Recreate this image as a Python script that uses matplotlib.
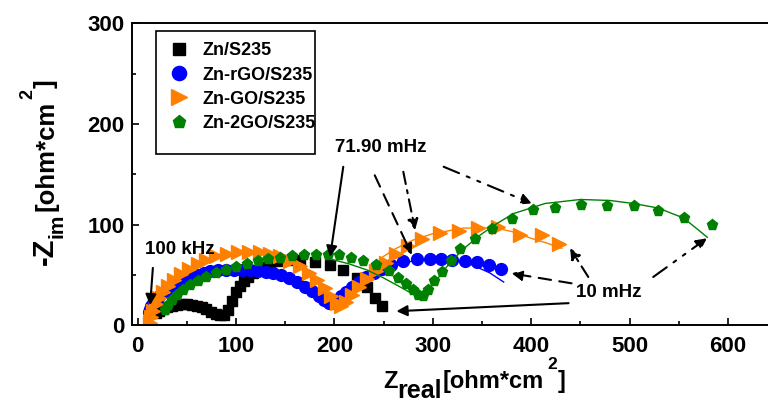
import numpy as np
import matplotlib
matplotlib.use("Agg")
import matplotlib.pyplot as plt
from matplotlib.patches import Rectangle
from matplotlib.ticker import MultipleLocator
from matplotlib.transforms import IdentityTransform

plt.rcParams['font.family'] = ['Liberation Sans', 'DejaVu Sans']
plt.rcParams['font.weight'] = 'bold'

# Zn/S235
zn_x = [19, 22, 26, 30, 35, 40, 45, 50, 55, 60, 65, 70, 75, 80, 84, 88, 92, 96,
        100, 104, 108, 112, 117, 122, 128, 135, 145, 155, 165, 180, 196, 209,
        223, 233, 241, 248]
zn_y = [12, 14, 16, 18, 19.5, 20.5, 21, 21, 20.5, 19.5, 18, 16, 13.5, 11, 10,
        10.5, 15, 24, 33, 39, 44, 48, 52, 55, 57.5, 60, 64, 65, 65, 63, 60, 55,
        47, 38, 27, 19]

# Zn-rGO/S235
rgo_x = [12, 13, 14, 16, 18, 21, 24, 28, 32, 37, 42, 48, 54, 60, 67, 74, 82, 90,
         98, 106, 114, 122, 130, 138, 146, 154, 162, 170, 177, 184, 189, 194,
         198, 202, 207, 212, 218, 225, 232, 240, 248, 258, 270, 284, 297, 308,
         320, 333, 345, 357, 369]
rgo_y = [13, 16, 19, 22, 25, 28, 31, 34, 37, 40, 43, 46, 48, 50, 52, 53.5, 54.5,
         55, 55, 55, 54.5, 54, 53, 51.5, 49.5, 46.5, 43, 38.5, 34, 29, 25.5, 22,
         22, 25, 29, 33, 38, 43, 48, 52, 56, 60, 64, 66, 66, 65.5, 65, 64, 63,
         60, 56]
rgo_fit_x = [190, 197, 205, 220, 240, 260, 280, 300, 320, 340, 358, 372]
rgo_fit_y = [26, 22, 25, 37, 50, 59, 64, 65.5, 64.5, 60, 52, 43]

# Zn-GO/S235
go_x = [13, 14, 16, 19, 22, 26, 31, 37, 44, 52, 61, 70, 80, 91, 102, 113, 124,
        135, 145, 155, 165, 174, 182, 190, 197, 203, 207, 212, 218, 225, 233,
        242, 252, 263, 275, 289, 307, 327, 346, 366, 389, 411, 428]
go_y = [2, 8, 14, 21, 27, 33, 39, 45, 51, 56, 61, 65, 68.5, 71, 72.5, 73, 72.5,
        71, 68.5, 64, 58.5, 52, 45, 37, 29, 22, 19, 23, 30, 38, 46, 54, 62, 71,
        79, 86, 91.5, 94, 96.5, 97.5, 90, 90, 81]
go_fit_x = [246, 262, 280, 300, 331, 365, 385, 399, 415, 431]
go_fit_y = [66, 76, 84.7, 91, 96.6, 96.6, 92, 86.7, 82, 76.5]

# Zn-2GO/S235
go2_x = [28, 31, 35, 40, 46, 53, 61, 70, 80, 90, 100, 111, 122, 133, 145, 157,
         169, 181, 193, 205, 217, 229, 242, 255, 265, 273, 280, 285, 290, 295,
         301, 309, 318, 328, 343, 360, 380, 402, 424, 451, 477, 504, 529, 555,
         584]
go2_y = [15, 20, 25, 30, 35, 40, 44, 48, 52, 55, 58, 61, 63.5, 65.5, 67, 68.5,
         69.5, 70, 70, 69.5, 67, 63.5, 60, 54, 47, 41, 35, 30, 29, 35, 44, 53,
         64, 76, 86, 96, 106, 114.5, 117, 119.5, 118.5, 118.5, 114, 107, 100]
go2_fit_x = [192, 199, 215, 233, 250, 267, 278, 287, 300, 314, 330, 348, 365,
             382, 414, 450, 480, 504, 529, 555, 579]
go2_fit_y = [66.5, 65, 61, 55, 47, 38, 32, 28.4, 40, 58, 75, 89.6, 101, 111,
             121, 125, 124, 121, 116.5, 106.5, 87.4]

fig = plt.figure(figsize=(7.68, 4.04), dpi=100)
ax = fig.add_axes([0.1715, 0.1948, 0.8405, 0.7475])

ax.plot(zn_x, zn_y, 's', color='black', ms=7.2, ls='none', label='Zn/S235')
ax.plot(rgo_fit_x, rgo_fit_y, '-', color='#0000FF', lw=1)
ax.plot(rgo_x, rgo_y, 'o', color='#0000FF', ms=8.5, ls='none', label='Zn-rGO/S235')
ax.plot(go_fit_x, go_fit_y, '-', color='#FF8000', lw=1)
ax.plot(go_x, go_y, '>', color='#FF8000', ms=9.5, ls='none', label='Zn-GO/S235')
ax.plot(go2_fit_x, go2_fit_y, '-', color='#008000', lw=1)
ax.plot(go2_x, go2_y, 'p', color='#008000', ms=8, ls='none', label='Zn-2GO/S235')

ax.set_xlim(-6, 650)
ax.set_ylim(0, 300)
ax.xaxis.set_major_locator(MultipleLocator(100))
ax.xaxis.set_minor_locator(MultipleLocator(50))
ax.yaxis.set_major_locator(MultipleLocator(100))
ax.yaxis.set_minor_locator(MultipleLocator(50))
ax.tick_params(which='both', direction='in', top=False, right=False, width=1.2)
ax.tick_params(which='major', length=5, labelsize=16)
ax.tick_params(axis='x', which='major', pad=8)
ax.tick_params(axis='y', which='major', pad=5)
ax.tick_params(which='minor', length=3)
for s in ax.spines.values():
    s.set_linewidth(1.4)

# axis titles built piece by piece (big sub/superscripts), in pixels
renderer = fig.canvas.get_renderer()

def label_pieces(pieces, x0, y0, rotated=False):
    pos = 0
    for txt, size, off, gap in pieces:
        if rotated:
            x, y = x0 - off, y0 + pos
        else:
            x, y = x0 + pos, y0 + off
        t = fig.text(x, y, txt, fontsize=size, fontweight='bold', ha='left',
                     va='baseline', rotation=90 if rotated else 0,
                     rotation_mode='anchor', transform=IdentityTransform())
        bb = t.get_window_extent(renderer)
        pos += (bb.height if rotated else bb.width) + gap

label_pieces([('Z', 17, 0, 0), ('real', 18, -10, 1), ('[ohm*cm', 17, 0, 3),
              ('2', 12.5, 19, 1), (']', 17, 0, 0)], 383, 404 - 388)
label_pieces([('-Z', 21, 0, 0), ('im', 15, -9, 2), ('[ohm*cm', 18.5, 0, 2),
              ('2', 13, 21, 1), (']', 18.5, 0, 0)], 53, 404 - 265, rotated=True)

leg = ax.legend(loc='upper left', bbox_to_anchor=(0.045, 0.967), frameon=False,
                prop={'size': 13, 'weight': 'bold'}, handlelength=1.0,
                handletextpad=0.8, labelspacing=0.4, borderpad=0,
                markerscale=1.2)
ax.add_patch(Rectangle((0.0374, 0.567), 0.247, 0.4085, transform=ax.transAxes,
                       fill=False, lw=1.2, ec='black'))

afont = dict(fontsize=13.5, fontweight='bold')
ax.text(7.6, 75, '100 kHz', va='center', ha='left', **afont)
ax.text(200.7, 177, '71.90 mHz', va='center', ha='left', **afont)
ax.text(446, 32.6, '10 mHz', va='center', ha='left', **afont)

def arrow(start, tip, ls='-'):
    ax.annotate('', xy=tip, xytext=start,
                arrowprops=dict(arrowstyle='-|>', color='black', lw=1.5,
                                linestyle=ls, mutation_scale=16,
                                shrinkA=0, shrinkB=0))

dashdotdot = (0, (8, 4, 1.5, 4, 1.5, 4))
arrow((15.5, 57), (12.7, 20))
arrow((209, 157.5), (195.6, 68))
arrow((241, 149), (278.6, 70), (0, (6, 4)))
arrow((270, 152.5), (282, 94.6), (0, (6, 3, 1.5, 3)))
arrow((311, 157.5), (400.6, 121), dashdotdot)
arrow((438, 22), (263, 14))
arrow((441, 41.7), (380, 51.6), (0, (6, 4)))
arrow((458, 48), (439.5, 76.5), (0, (6, 3, 1.5, 3)))
arrow((524, 48), (578.5, 86.4), dashdotdot)

fig.savefig('out.png', dpi=100)
